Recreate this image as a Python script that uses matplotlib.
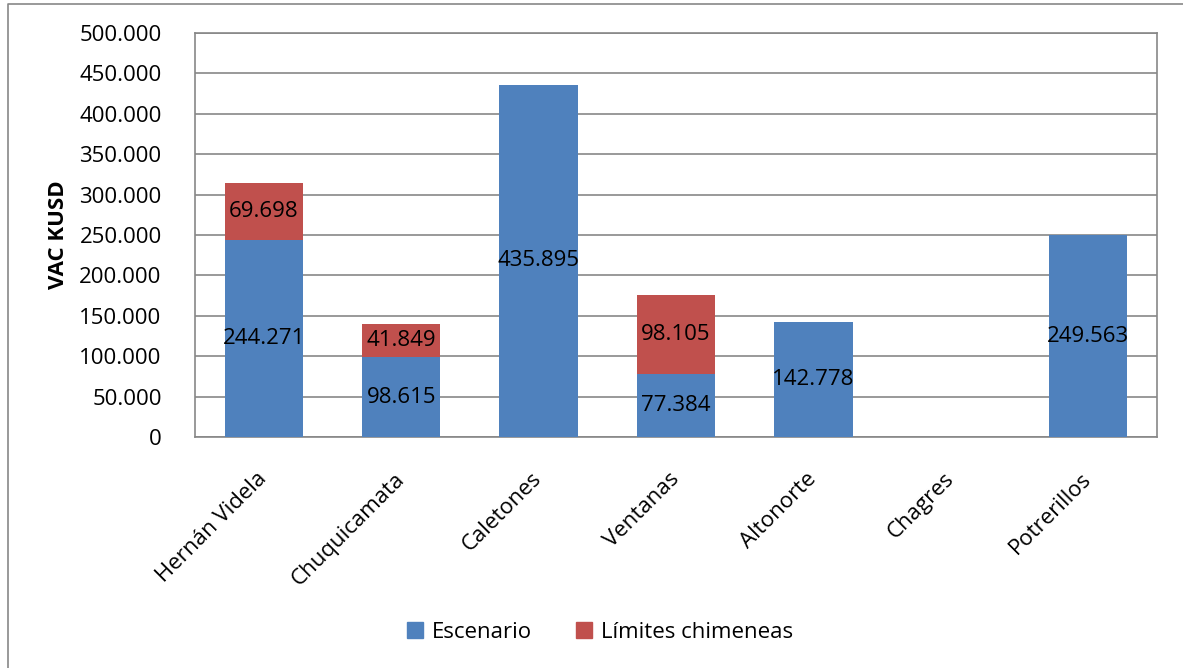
import matplotlib
matplotlib.use("Agg")
import matplotlib.pyplot as plt
import matplotlib.patches as mpatches
from matplotlib.lines import Line2D
import numpy as np

plantas = ["Hernán Videla", "Chuquicamata", "Caletones", "Ventanas",
           "Altonorte", "Chagres", "Potrerillos"]
escenario = [244.271, 98.615, 435.895, 77.384, 142.778, 0.0, 249.563]
limites = [69.698, 41.849, 0.0, 98.105, 0.0, 0.0, 0.0]
yticks = [0, 50, 100, 150, 200, 250, 300, 350, 400, 450, 500]

azul = "#4F81BD"
rojo = "#C0504D"
gris = "#878787"

plt.rcParams["font.family"] = ["Open Sans", "DejaVu Sans"]

def fmt(v):
    # separador de miles con punto
    return f"{v:.3f}" if v > 0 else "0"

fig = plt.figure(figsize=(11.83, 6.68), dpi=100)
ax = fig.add_axes([195/1183, 1 - 437/668, (1157-195)/1183, (437-33)/668])

x = np.arange(len(plantas))
ax.bar(x, escenario, width=0.57, color=azul, zorder=3)
ax.bar(x, limites, width=0.57, bottom=escenario, color=rojo, zorder=3)

# Etiquetas de datos
for i in range(len(plantas)):
    if escenario[i] > 0:
        ax.text(x[i], escenario[i]/2, fmt(escenario[i]), ha="center", va="center",
                fontsize=16, color="black", zorder=4)
    if limites[i] > 0:
        ax.text(x[i], escenario[i] + limites[i]/2, fmt(limites[i]), ha="center",
                va="center", fontsize=16, color="black", zorder=4)

ax.set_xlim(-0.5, len(plantas) - 0.5)
ax.set_ylim(0, 500)
ax.set_yticks(yticks)
ax.set_yticklabels([fmt(v) for v in yticks], fontsize=16)
ax.yaxis.grid(True, color=gris, linewidth=1.2, zorder=0)
ax.tick_params(axis="y", length=0, pad=24)
ax.tick_params(axis="x", length=0, pad=28)
ax.set_xticks(x)
ax.set_xticklabels(plantas, fontsize=16, rotation=45, ha="right",
                   va="center", rotation_mode="anchor")
for s in ax.spines.values():
    s.set_color(gris)
    s.set_linewidth(1.2)

ax.set_ylabel("VAC KUSD", fontsize=16, fontweight="bold")
ax.yaxis.set_label_coords(-0.131, 0.5)

# Leyenda
handles = [mpatches.Patch(color=azul, label="Escenario"),
           mpatches.Patch(color=rojo, label="Límites chimeneas")]
fig.legend(handles=handles, loc="center", bbox_to_anchor=(600/1183, 1 - 632/668),
           ncol=2, frameon=False, fontsize=16, handlelength=0.7, handleheight=0.7,
           handletextpad=0.4, columnspacing=2.0)

# Borde del gráfico (solo superior e izquierdo visibles)
fig.add_artist(Line2D([8/1183, 8/1183, 1.0], [0.0, 1 - 4/668, 1 - 4/668],
                      transform=fig.transFigure, color=gris, linewidth=1.2))

fig.savefig("out.png", dpi=100)
